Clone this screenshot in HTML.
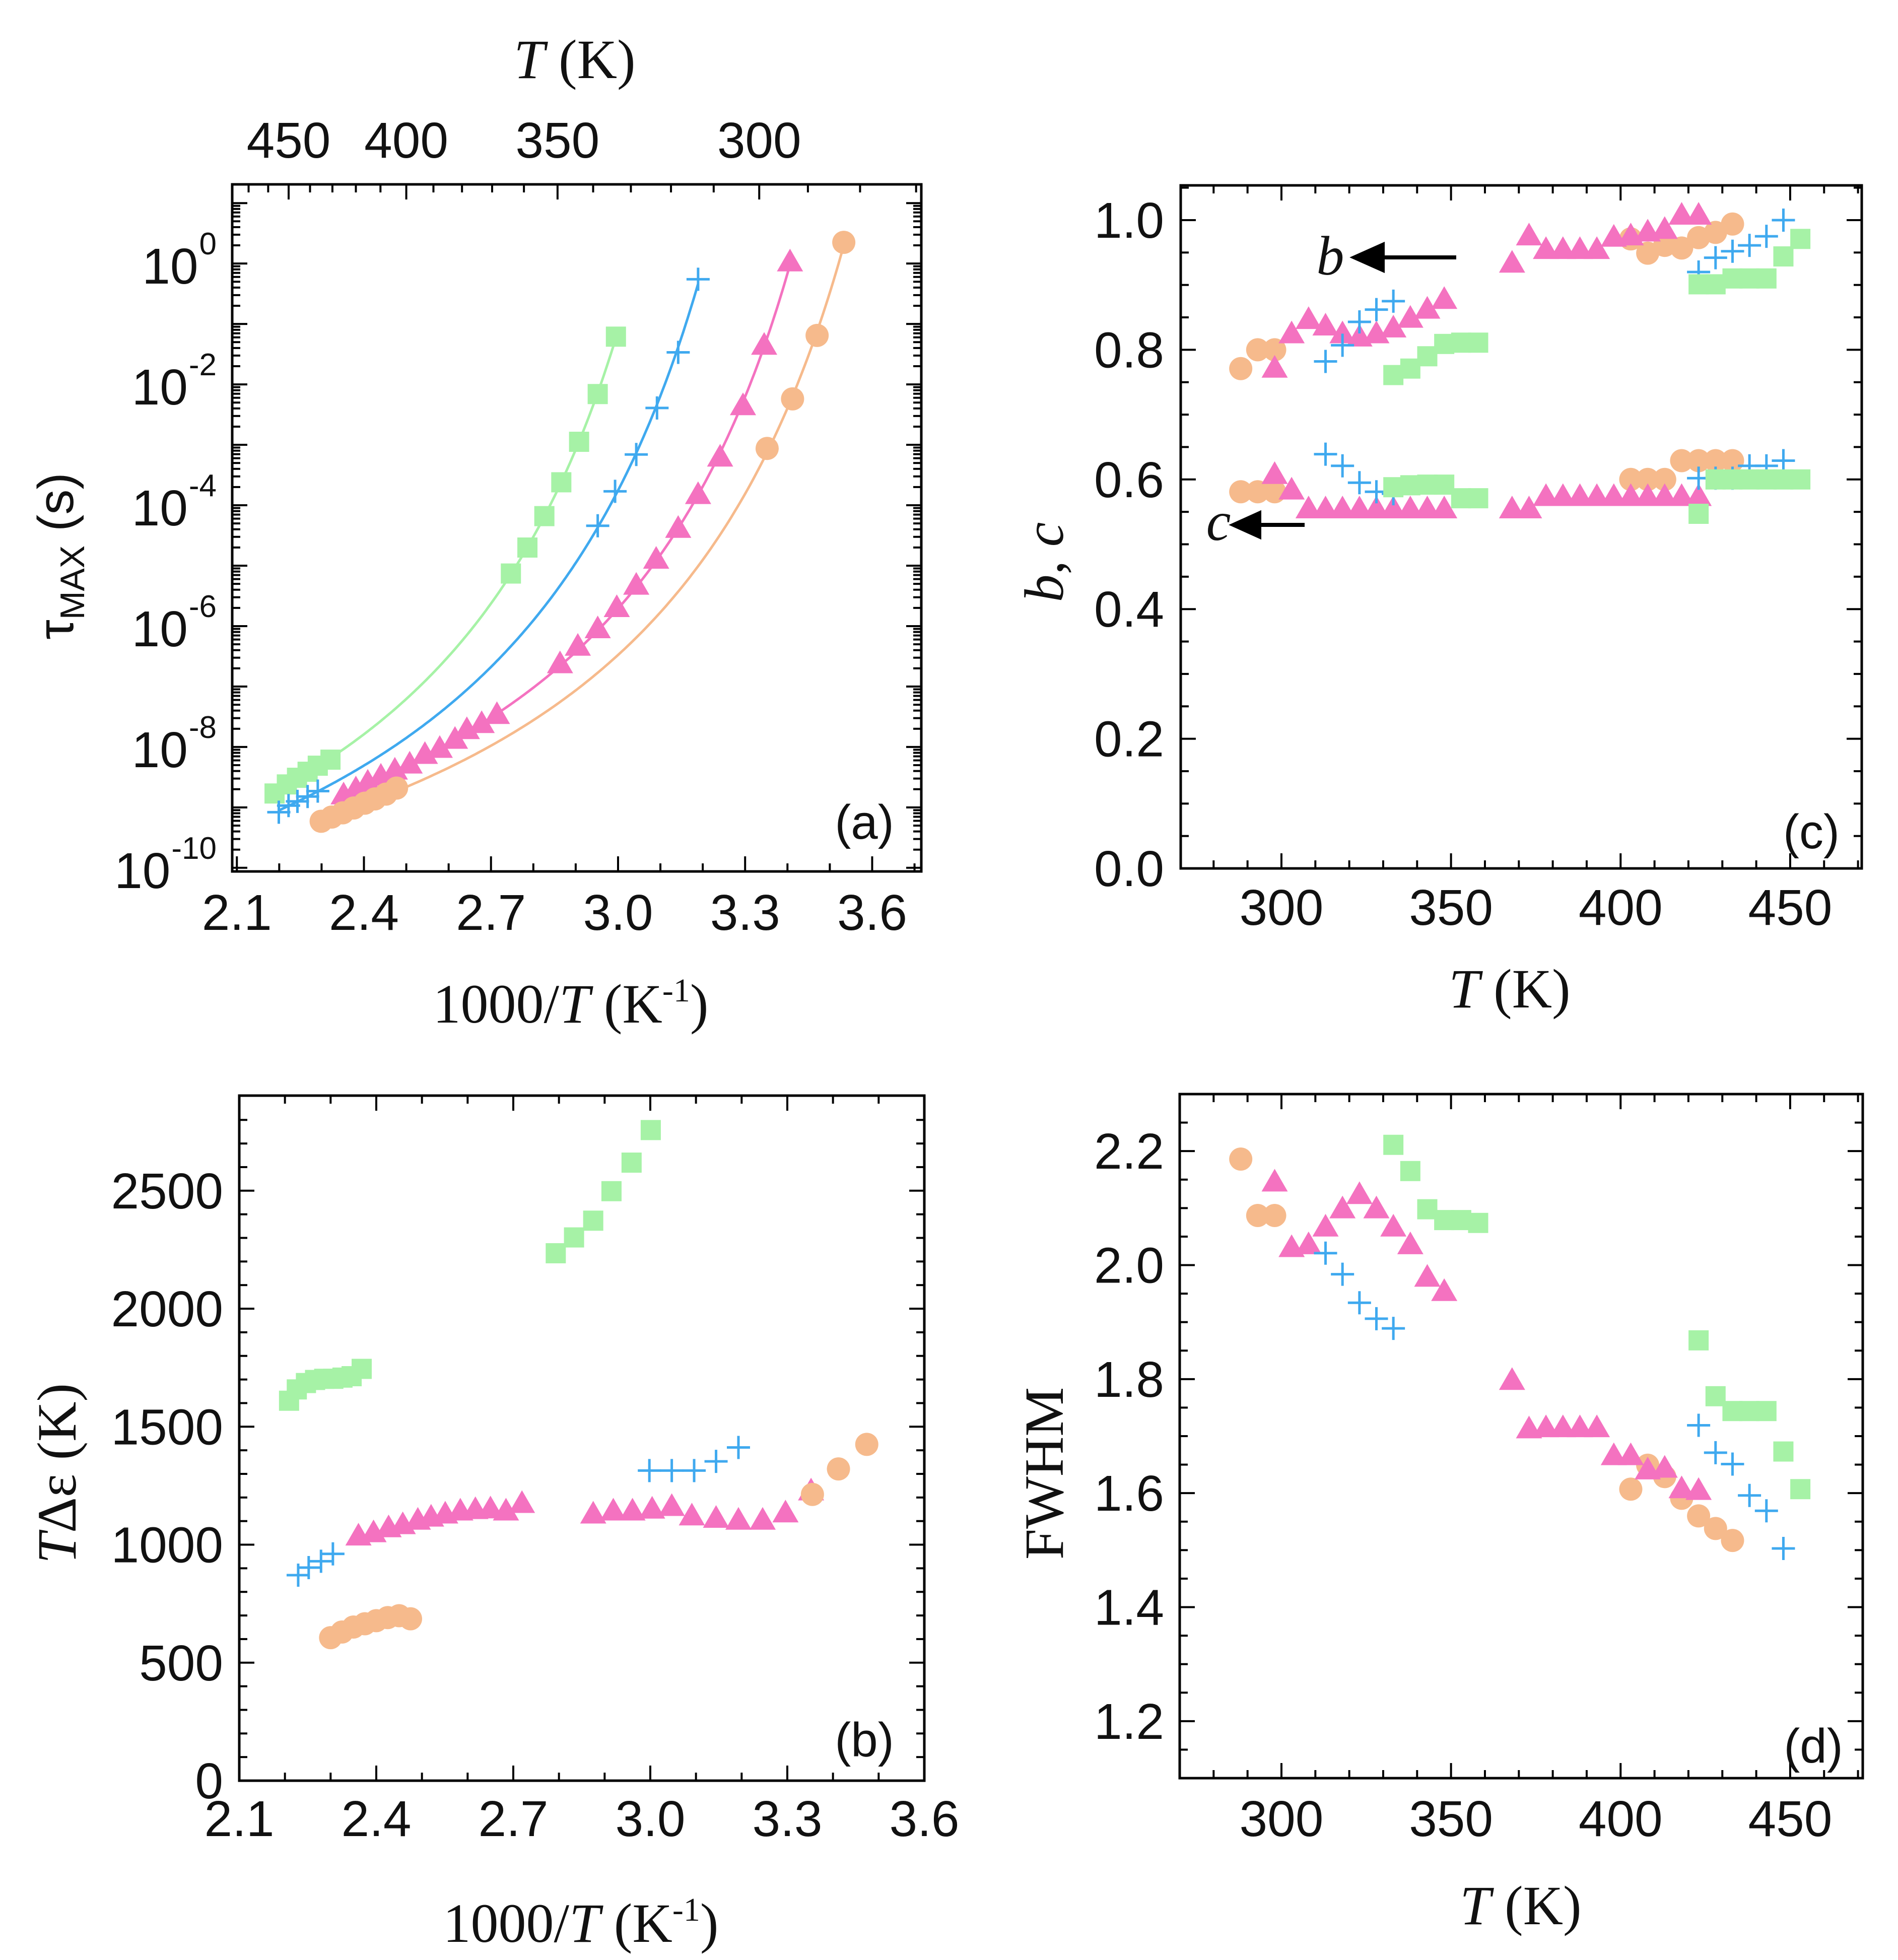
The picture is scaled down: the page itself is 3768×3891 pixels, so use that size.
<!DOCTYPE html>
<html><head><meta charset="utf-8"><style>
html,body{margin:0;padding:0;background:#fff;}
svg{display:block;}
text{font-family:"Liberation Sans",sans-serif;fill:#111;}
.serif{font-family:"Liberation Serif",serif;}
</style></head><body>
<svg id="fig" width="3768" height="3891" viewBox="0 0 3768 3891" xmlns="http://www.w3.org/2000/svg"></svg>
<script>
// ---------- Panel (a) data: x = 1000/T, y = log10(tau) ----------
const aGreenX=[2.189,2.218,2.242,2.267,2.291,2.321,2.747,2.786,2.826,2.866,2.908,2.952,2.995];
const aGreenY=[-8.77,-8.62,-8.51,-8.41,-8.31,-8.21,-5.13,-4.70,-4.18,-3.62,-2.95,-2.16,-1.21];
const aBlueX=[2.199,2.222,2.243,2.267,2.291,2.952,2.993,3.043,3.092,3.142,3.189];
const aBlueY=[-9.08,-8.97,-8.90,-8.82,-8.73,-4.34,-3.77,-3.16,-2.39,-1.47,-0.26];
const aPinkX=[2.352,2.381,2.409,2.440,2.473,2.508,2.544,2.579,2.615,2.643,2.678,2.714,2.863,2.905,2.952,2.997,3.043,3.090,3.142,3.189,3.241,3.295,3.345,3.406];
const aPinkY=[-8.80,-8.70,-8.59,-8.49,-8.39,-8.29,-8.13,-8.03,-7.88,-7.72,-7.62,-7.47,-6.63,-6.34,-6.05,-5.70,-5.33,-4.90,-4.39,-3.83,-3.21,-2.36,-1.36,0.02];
const aOrangeX=[2.299,2.324,2.350,2.376,2.402,2.426,2.452,2.477,3.352,3.412,3.470,3.533];
const aOrangeY=[-9.23,-9.16,-9.09,-9.01,-8.93,-8.86,-8.78,-8.68,-3.06,-2.24,-1.19,0.35];
const aXTicks=[2.1,2.4,2.7,3.0,3.3,3.6];
const aXTickLabels=["2.1","2.4","2.7","3.0","3.3","3.6"];
const aYTicks=[0,-2,-4,-6,-8,-10];
const aYTickLabels=["0","-2","-4","-6","-8","-10"];
const aTopTicks=[450,400,350,300];
const aTopLabels=["450","400","350","300"];
// ---------- Panel (b) data ----------
const bGreenX=[2.209,2.226,2.246,2.266,2.286,2.306,2.326,2.346,2.368,2.793,2.833,2.875,2.915,2.959,3.001];
const bGreenY=[1610,1658,1685,1698,1703,1703,1708,1714,1745,2235,2302,2373,2498,2619,2757];
const bBlueX=[2.229,2.252,2.279,2.305,2.998,3.047,3.096,3.144,3.193];
const bBlueY=[871,903,930,961,1314,1314,1314,1353,1412];
const bPinkX=[2.361,2.394,2.427,2.458,2.491,2.520,2.551,2.584,2.617,2.650,2.684,2.719,2.875,2.919,2.961,3.004,3.047,3.091,3.144,3.193,3.246,3.296,3.352];
const bPinkY=[1035,1049,1070,1083,1102,1115,1128,1141,1147,1150,1141,1173,1128,1141,1141,1149,1160,1120,1110,1102,1102,1133,1226];
const bOrangeX=[2.30,2.325,2.35,2.375,2.40,2.425,2.45,2.475,3.355,3.412,3.474];
const bOrangeY=[606,630,651,665,678,691,699,686,1213,1321,1425];
const bXTicks=[2.1,2.4,2.7,3.0,3.3,3.6];
const bXTickLabels=["2.1","2.4","2.7","3.0","3.3","3.6"];
const bYTicks=[0,500,1000,1500,2000,2500];
const bYTickLabels=["0","500","1000","1500","2000","2500"];
// ---------- Panel (c) data ----------
const cOrangeT=[288,293,298,403,408,413,418,423,428,433];
const cOrangeB=[0.771,0.800,0.800,0.971,0.949,0.961,0.957,0.973,0.981,0.994];
const cOrangeC=[0.581,0.581,0.581,0.600,0.600,0.600,0.629,0.629,0.629,0.629];
const cPinkT=[298,303,308,313,318,323,328,333,338,343,348,368,373,378,383,388,393,398,403,408,413,418,423];
const cPinkB=[0.771,0.824,0.846,0.836,0.824,0.819,0.824,0.833,0.848,0.862,0.877,0.933,0.975,0.954,0.954,0.954,0.954,0.973,0.975,0.981,0.985,1.007,1.007];
const cPinkC=[0.607,0.583,0.554,0.554,0.554,0.554,0.554,0.554,0.554,0.554,0.554,0.554,0.554,0.573,0.573,0.573,0.573,0.573,0.573,0.573,0.573,0.573,0.573];
const cBlueT=[313,318,323,328,333,423,428,433,438,443,448];
const cBlueB=[0.782,0.807,0.843,0.862,0.875,0.920,0.942,0.952,0.961,0.975,1.0];
const cBlueC=[0.639,0.621,0.595,0.581,0.578,0.602,0.602,0.602,0.621,0.621,0.629];
const cGreenT=[333,338,343,348,353,358,423,428,433,438,443,448,453];
const cGreenB=[0.761,0.771,0.790,0.809,0.811,0.811,0.901,0.901,0.910,0.910,0.910,0.944,0.971];
const cGreenC=[0.588,0.591,0.592,0.592,0.571,0.571,0.547,0.600,0.600,0.600,0.600,0.600,0.600];
const cXTicks=[300,350,400,450];
const cXTickLabels=["300","350","400","450"];
const cYTicks=[0,0.2,0.4,0.6,0.8,1.0];
const cYTickLabels=["0.0","0.2","0.4","0.6","0.8","1.0"];
// ---------- Panel (d) data ----------
const dOrangeT=[288,293,298,403,408,413,418,423,428,433];
const dOrangeW=[2.186,2.087,2.087,1.607,1.649,1.629,1.591,1.560,1.538,1.517];
const dPinkT=[298,303,308,313,318,323,328,333,338,343,348,368,373,378,383,388,393,398,403,408,413,418,423];
const dPinkW=[2.145,2.030,2.035,2.066,2.098,2.123,2.098,2.066,2.035,1.978,1.953,1.797,1.712,1.714,1.714,1.714,1.714,1.665,1.665,1.640,1.643,1.607,1.604];
const dBlueT=[313,318,323,328,333,423,428,433,438,443,448];
const dBlueW=[2.021,1.984,1.934,1.906,1.889,1.719,1.671,1.651,1.596,1.569,1.503];
const dGreenT=[333,338,343,348,353,358,423,428,433,438,443,448,453];
const dGreenW=[2.211,2.165,2.098,2.079,2.079,2.074,1.868,1.770,1.744,1.744,1.744,1.673,1.607];
const dXTicks=[300,350,400,450];
const dXTickLabels=["300","350","400","450"];
const dYTicks=[1.2,1.4,1.6,1.8,2.0,2.2];
const dYTickLabels=["1.2","1.4","1.6","1.8","2.0","2.2"];

const COL={green:"#a6f2a6",blue:"#3fa9ef",pink:"#f472c0",orange:"#f6ba8c"};
const NS="http://www.w3.org/2000/svg";
const svg=document.getElementById('fig');
function mk(tag,attrs,parent){const e=document.createElementNS(NS,tag);for(const k in attrs)e.setAttribute(k,attrs[k]);(parent||svg).appendChild(e);return e;}

function makeAxes(p){
  p.sx=v=>p.L+(v-p.xmin)/(p.xmax-p.xmin)*(p.R-p.L);
  p.sy=v=>p.B-(v-p.ymin)/(p.ymax-p.ymin)*(p.B-p.T);
  return p;
}
function frame(p,name,xMinor,yMinor,topMinor){
  const g=mk('g',{});
  
  
  mk('rect',{x:p.L,y:p.T,width:p.R-p.L,height:p.B-p.T,fill:'none',stroke:'#000','stroke-width':5},g);
  const tick=(x1,y1,x2,y2)=>mk('line',{x1,y1,x2,y2,stroke:'#000','stroke-width':4},g);
  xMinor.forEach(m=>{const x=p.sx(m.v);const len=m.major?30:16;tick(x,p.B,x,p.B-len);if(!topMinor)tick(x,p.T,x,p.T+len);});
  if(topMinor)topMinor.forEach(m=>{const x=p.sx(m.v);if(x<p.L+3||x>p.R-3)return;const len=m.major?30:16;tick(x,p.T,x,p.T+len);});
  yMinor.forEach(m=>{const y=p.sy(m.v);if(y<p.T+2||y>p.B-2&&!m.major)return;const len=m.major?30:16;tick(p.L,y,p.L+len,y);tick(p.R,y,p.R-len,y);});
}
function linTicks(a,b,step,majorStep){const out=[];for(let v=a;v<=b+1e-9;v+=step){const r=Math.round(v/step)*step;out.push({v:r,major:Math.abs(r/majorStep-Math.round(r/majorStep))<1e-6});}return out;}
function txt(s,x,y,size,anchor,cls,name){const t=mk('text',{x,y,'font-size':size,'text-anchor':anchor||'middle'});if(cls)t.setAttribute('class',cls);t.textContent=s;return t;}

function marker(kind,x,y,color,name){
  let e;
  if(kind==='square'){e=mk('rect',{x:x-20,y:y-20,width:40,height:40,fill:color});}
  else if(kind==='circle'){e=mk('circle',{cx:x,cy:y,r:23,fill:color});}
  else if(kind==='tri'){e=mk('polygon',{points:`${x},${y-27} ${x+26},${y+18} ${x-26},${y+18}`,fill:color});}
  else {e=mk('path',{d:`M${x-23},${y}H${x+23}M${x},${y-23}V${y+23}`,stroke:color,'stroke-width':5,fill:'none'});}
  
  
}
// VFT fit computed from data: log10 tau = A + D/(T - T0), T = 1000/x
function vftFit(X,Y){
  const T=X.map(x=>1000/x);const tmin=Math.min(...T);
  let best=null;
  for(let T0=0;T0<tmin-2;T0+=0.5){
    const z=T.map(t=>1/(t-T0));const n=z.length;
    const mz=z.reduce((a,b)=>a+b)/n,my=Y.reduce((a,b)=>a+b)/n;
    let sxy=0,sxx=0;z.forEach((v,i)=>{sxy+=(v-mz)*(Y[i]-my);sxx+=(v-mz)*(v-mz);});
    const D=sxy/sxx,A=my-D*mz;
    let sse=0;z.forEach((v,i)=>{const r=Y[i]-(A+D*v);sse+=r*r;});
    if(!best||sse<best.sse)best={A,D,T0,sse};
  }
  return x=>best.A+best.D/(1000/x-best.T0);
}

// ================= Panel (a) =================
const pa=makeAxes({L:461,R:1829,T:366,B:1730,xmin:2.089,xmax:3.716,ymin:-10.06,ymax:1.31});
(function(){
  const xm=linTicks(2.1,3.7,0.1,0.3);
  const ym=[];for(let d=-10;d<=1;d++){ym.push({v:d,major:true});for(let k=2;k<=9;k++){const v=d+Math.log10(k);if(v<pa.ymax)ym.push({v,major:false});}}
  const tm=[];for(let t=270;t<=480;t+=10)tm.push({v:1000/t,major:t%50===0});
  frame(pa,'panel-a',xm,ym,tm);
  aXTicks.forEach((v,i)=>txt(aXTickLabels[i],pa.sx(v),1846,100,'middle',null,'panel-a-x-tick-label'));
  aYTicks.forEach((v,i)=>{
    const y=pa.sy(v);
    const s=aYTickLabels[i];
    let w=0;for(const ch of s)w+=(ch==='-'?0.333:0.556)*62;
    txt(s,430,y-18,62,'end',null,'panel-a-y-tick-exponent');
    txt('10',430-w-2,y+40,100,'end',null,'panel-a-y-tick-label');
  });
  aTopTicks.forEach((t,i)=>txt(aTopLabels[i],pa.sx(1000/t),313,100,'middle',null,'panel-a-top-tick-label'));
  const tt=txt('',1141,155,110,'middle','serif','panel-a-top-axis-title');
  mk('tspan',{'font-style':'italic'},tt).textContent='T';
  mk('tspan',{},tt).textContent=' (K)';
  const bt=txt('',1133,2030,110,'middle','serif','panel-a-x-axis-title');
  mk('tspan',{},bt).textContent='1000/';
  mk('tspan',{'font-style':'italic'},bt).textContent='T';
  mk('tspan',{},bt).textContent=' (K';
  mk('tspan',{dy:-42,'font-size':66},bt).textContent='-1';
  mk('tspan',{dy:42},bt).textContent=')';
  const yt=txt('',0,0,100,'middle',null,'panel-a-y-axis-title');
  yt.setAttribute('transform','translate(145,1104) rotate(-90)');
  mk('tspan',{},yt).textContent='τ';
  mk('tspan',{dy:22,'font-size':68},yt).textContent='MAX';
  mk('tspan',{dy:-22},yt).textContent=' (s)';
  txt('(a)',1716,1665,96,'middle',null,'panel-a-label');
  const series=[['green','square',aGreenX,aGreenY],['blue','plus',aBlueX,aBlueY],['pink','tri',aPinkX,aPinkY],['orange','circle',aOrangeX,aOrangeY]];
  series.forEach(([c,k,X,Y])=>{
    const f=vftFit(X,Y);const x0=Math.min(...X),x1=Math.max(...X);
    let d='';for(let i=0;i<=200;i++){const x=x0+(x1-x0)*i/200;d+=(i?'L':'M')+pa.sx(x).toFixed(1)+','+pa.sy(f(x)).toFixed(1);}
    const path=mk('path',{d,fill:'none',stroke:COL[c],'stroke-width':5});
    
    
  });
  series.forEach(([c,k,X,Y])=>X.forEach((x,i)=>marker(k,pa.sx(x),pa.sy(Y[i]),COL[c],'panel-a-point-'+c)));
})();

// ================= Panel (b) =================
const pb=makeAxes({L:475,R:1835,T:2175,B:3535,xmin:2.1,xmax:3.6,ymin:0,ymax:2903});
(function(){
  frame(pb,'panel-b',linTicks(2.1,3.6,0.1,0.3),linTicks(0,2900,100,500));
  bXTicks.forEach((v,i)=>txt(bXTickLabels[i],pb.sx(v),3645,100,'middle',null,'panel-b-x-tick-label'));
  bYTicks.forEach((v,i)=>txt(bYTickLabels[i],443,pb.sy(v)+35,100,'end',null,'panel-b-y-tick-label'));
  const bt=txt('',1153,3855,110,'middle','serif','panel-b-x-axis-title');
  mk('tspan',{},bt).textContent='1000/';
  mk('tspan',{'font-style':'italic'},bt).textContent='T';
  mk('tspan',{},bt).textContent=' (K';
  mk('tspan',{dy:-42,'font-size':66},bt).textContent='-1';
  mk('tspan',{dy:42},bt).textContent=')';
  const yt=txt('',0,0,110,'middle','serif','panel-b-y-axis-title');
  yt.setAttribute('transform','translate(150,2925) rotate(-90)');
  mk('tspan',{'font-style':'italic'},yt).textContent='T';
  mk('tspan',{},yt).textContent='Δε (K)';
  txt('(b)',1716,3487,96,'middle',null,'panel-b-label');
  [['green','square',bGreenX,bGreenY],['blue','plus',bBlueX,bBlueY],['pink','tri',bPinkX,bPinkY],['orange','circle',bOrangeX,bOrangeY]]
   .forEach(([c,k,X,Y])=>X.forEach((x,i)=>marker(k,pb.sx(x),pb.sy(Y[i]),COL[c],'panel-b-point-'+c)));
})();

// ================= Panel (c) =================
const pc=makeAxes({L:2344,R:3696,T:368,B:1724,xmin:270.3,xmax:471.1,ymin:0,ymax:1.0536});
(function(){
  frame(pc,'panel-c',linTicks(280,470,10,50),linTicks(0,1.05,0.05,0.2));
  cXTicks.forEach((v,i)=>txt(cXTickLabels[i],pc.sx(v),1836,100,'middle',null,'panel-c-x-tick-label'));
  cYTicks.forEach((v,i)=>txt(cYTickLabels[i],2311,pc.sy(v)+35,100,'end',null,'panel-c-y-tick-label'));
  const bt=txt('',2997,2000,110,'middle','serif','panel-c-x-axis-title');
  mk('tspan',{'font-style':'italic'},bt).textContent='T';
  mk('tspan',{},bt).textContent=' (K)';
  const yt=txt('',0,0,110,'middle','serif','panel-c-y-axis-title');
  yt.setAttribute('transform','translate(2110,1116) rotate(-90)');
  mk('tspan',{'font-style':'italic'},yt).textContent='b';
  mk('tspan',{},yt).textContent=', ';
  mk('tspan',{'font-style':'italic'},yt).textContent='c';
  txt('(c)',3596,1684,96,'middle',null,'panel-c-label');
  const series=[['orange','circle',cOrangeT,cOrangeB,cOrangeC],['pink','tri',cPinkT,cPinkB,cPinkC],['blue','plus',cBlueT,cBlueB,cBlueC],['green','square',cGreenT,cGreenB,cGreenC]];
  series.forEach(([c,k,T,B,C])=>{T.forEach((t,i)=>{marker(k,pc.sx(t),pc.sy(B[i]),COL[c],'panel-c-b-point-'+c);marker(k,pc.sx(t),pc.sy(C[i]),COL[c],'panel-c-c-point-'+c);});});
  txt('b',2641,545,110,'middle','serif','panel-c-b-annotation').setAttribute('font-style','italic');
  const a1=mk('path',{d:'M2891,511 H2740 M2689,511 L2745,486 L2745,536 Z',stroke:'#000','stroke-width':8,fill:'#000'});
  
  
  txt('c',2419,1072,110,'middle','serif','panel-c-c-annotation').setAttribute('font-style','italic');
  const a2=mk('path',{d:'M2590,1042 H2495 M2449,1042 L2500,1019 L2500,1065 Z',stroke:'#000','stroke-width':8,fill:'#000'});
  
  
})();

// ================= Panel (d) =================
const pd=makeAxes({L:2342,R:3698,T:2172,B:3530,xmin:270,xmax:471.4,ymin:1.1,ymax:2.3});
(function(){
  frame(pd,'panel-d',linTicks(280,470,10,50),linTicks(1.1,2.3,0.05,0.2).map(m=>({v:m.v,major:Math.abs(m.v*5-Math.round(m.v*5))<1e-6})));
  dXTicks.forEach((v,i)=>txt(dXTickLabels[i],pd.sx(v),3645,100,'middle',null,'panel-d-x-tick-label'));
  dYTicks.forEach((v,i)=>txt(dYTickLabels[i],2311,pd.sy(v)+35,100,'end',null,'panel-d-y-tick-label'));
  const bt=txt('',3019,3820,110,'middle','serif','panel-d-x-axis-title');
  mk('tspan',{'font-style':'italic'},bt).textContent='T';
  mk('tspan',{},bt).textContent=' (K)';
  const yt=txt('FWHM',0,0,110,'middle','serif','panel-d-y-axis-title');
  yt.setAttribute('transform','translate(2110,2925) rotate(-90)');
  txt('(d)',3600,3499,96,'middle',null,'panel-d-label');
  [['orange','circle',dOrangeT,dOrangeW],['pink','tri',dPinkT,dPinkW],['blue','plus',dBlueT,dBlueW],['green','square',dGreenT,dGreenW]]
   .forEach(([c,k,T,W])=>T.forEach((t,i)=>marker(k,pd.sx(t),pd.sy(W[i]),COL[c],'panel-d-point-'+c)));
})();
</script>
</body></html>
